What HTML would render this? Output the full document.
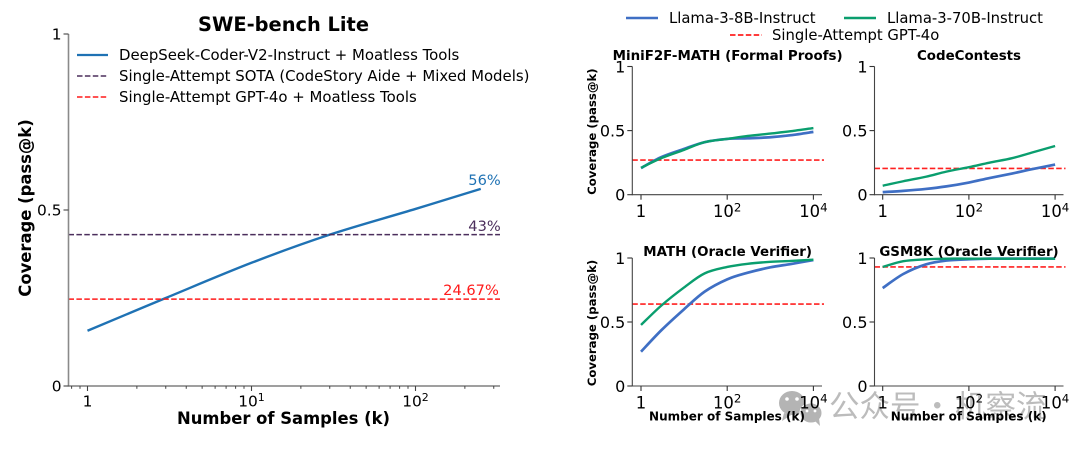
<!DOCTYPE html>
<html lang="en">
<head>
<meta charset="utf-8">
<title>Coverage charts</title>
<style>
html,body{margin:0;padding:0;background:#fff;width:1080px;height:451px;overflow:hidden}
svg{display:block;filter:blur(0.35px)}
text{font-family:"DejaVu Sans","Noto Sans CJK SC",sans-serif;fill:#000}
</style>
</head>
<body>
<svg id="chart" xmlns="http://www.w3.org/2000/svg" width="1080" height="451" viewBox="0 0 1080 451"></svg>
<script>
// ---- Left chart data ----
const sweSamples = [1, 3, 10, 30, 100, 250];
const sweDeepSeek = [0.157, 0.25, 0.35, 0.43, 0.503, 0.56];
const sweSota = 0.43;
const sweGpt = 0.2467;
const sweXTicks = [1, 10, 100];
const sweYTicks = [0, 0.5, 1];
const sweMinorTicks = [0.8, 0.9, 2, 3, 4, 5, 6, 7, 8, 9, 20, 30, 40, 50, 60, 70, 80, 90, 200, 300];

// ---- Right panel data ----
const panelSamples = [1, 3, 10, 30, 100, 300, 1000, 3000, 10000];
const panelXTicks = [1, 100, 10000];
const panelYTicks = [0, 0.5, 1];
const panelTitles = ["MiniF2F-MATH (Formal Proofs)", "CodeContests", "MATH (Oracle Verifier)", "GSM8K (Oracle Verifier)"];
const llama8 = [
  [0.208, 0.294, 0.357, 0.41, 0.435, 0.44, 0.448, 0.464, 0.49],
  [0.02, 0.03, 0.045, 0.065, 0.095, 0.13, 0.165, 0.2, 0.235],
  [0.268, 0.4375, 0.6, 0.737, 0.833, 0.885, 0.927, 0.953, 0.984],
  [0.765, 0.875, 0.95, 0.98, 0.99, 0.995, 0.995, 0.995, 0.995]
];
const llama70 = [
  [0.21, 0.286, 0.35, 0.41, 0.435, 0.458, 0.477, 0.495, 0.52],
  [0.07, 0.105, 0.14, 0.18, 0.215, 0.25, 0.285, 0.33, 0.38],
  [0.477, 0.63, 0.77, 0.88, 0.93, 0.955, 0.97, 0.977, 0.987],
  [0.93, 0.975, 0.99, 0.995, 0.995, 0.995, 0.995, 0.995, 0.995]
];
const gptBaseline = [0.27, 0.205, 0.64, 0.93];

const svg = document.getElementById('chart');
const NS = 'http://www.w3.org/2000/svg';

function add(parent, tag, attrs, txt) {
  const el = document.createElementNS(NS, tag);
  for (const k in attrs) el.setAttribute(k, attrs[k]);
  if (txt !== undefined) el.textContent = txt;
  parent.appendChild(el);
  return el;
}
function group(name) {
  const g = document.createElementNS(NS, 'g');
  
  
  svg.appendChild(g);
  return g;
}
function smoothPath(pts) {
  let d = 'M' + pts[0][0].toFixed(2) + ' ' + pts[0][1].toFixed(2);
  for (let i = 0; i < pts.length - 1; i++) {
    const p0 = pts[Math.max(i - 1, 0)], p1 = pts[i], p2 = pts[i + 1], p3 = pts[Math.min(i + 2, pts.length - 1)];
    const c1x = p1[0] + (p2[0] - p0[0]) / 6, c1y = p1[1] + (p2[1] - p0[1]) / 6;
    const c2x = p2[0] - (p3[0] - p1[0]) / 6, c2y = p2[1] - (p3[1] - p1[1]) / 6;
    d += 'C' + [c1x, c1y, c2x, c2y, p2[0], p2[1]].map(v => v.toFixed(2)).join(' ');
  }
  return d;
}
function tickLabel(g, x, y, value, size, supSize) {
  const e = Math.round(Math.log10(value));
  if (e === 0) {
    add(g, 'text', {x: x, y: y, 'font-size': size, 'text-anchor': 'middle'}, '1');
    return;
  }
  const t = add(g, 'text', {x: x, y: y, 'font-size': size, 'text-anchor': 'middle'}, '10');
  add(t, 'tspan', {dy: -size * 0.36, 'font-size': supSize}, String(e));
}

// ---- Left chart ----
const L = {x0: 68.5, x1: 500, y0: 386, y1: 34, xOne: 87.5, dec: 164};
const lx = v => L.xOne + Math.log10(v) * L.dec;
const ly = v => L.y0 + (L.y1 - L.y0) * v;

const leftG = group('swe-bench-lite-chart');
const gridG = group('swe-baselines');
const lSota = add(gridG, 'line', {x1: L.x0, x2: L.x1, y1: ly(sweSota), y2: ly(sweSota), stroke: '#4b2e5c', 'stroke-width': 1.5, 'stroke-dasharray': '5.5 2.4'});


const lGpt = add(gridG, 'line', {x1: L.x0, x2: L.x1, y1: ly(sweGpt), y2: ly(sweGpt), stroke: '#ff1a1a', 'stroke-width': 1.5, 'stroke-dasharray': '5.5 2.4'});



const lCurve = add(leftG, 'path', {d: smoothPath(sweSamples.map((s, i) => [lx(s), ly(sweDeepSeek[i])])), fill: 'none', stroke: '#1f72b4', 'stroke-width': 2.4});



const lAxes = group('swe-axes');
add(lAxes, 'line', {x1: L.x0, x2: L.x0, y1: L.y1, y2: L.y0 + 0.6, stroke: '#8a8a8a', 'stroke-width': 1.6});
add(lAxes, 'line', {x1: L.x0, x2: L.x1, y1: L.y0, y2: L.y0, stroke: '#666', 'stroke-width': 1.2});
sweYTicks.forEach(v => {
  add(lAxes, 'line', {x1: L.x0 - 5, x2: L.x0, y1: ly(v), y2: ly(v), stroke: '#444', 'stroke-width': 1.1});
  const lab = add(lAxes, 'text', {x: L.x0 - 7, y: ly(v) + 5.6, 'font-size': 15.4, 'text-anchor': 'end'}, String(v));
  
  
});
sweXTicks.forEach(v => {
  add(lAxes, 'line', {x1: lx(v), x2: lx(v), y1: L.y0, y2: L.y0 + 5, stroke: '#444', 'stroke-width': 1.1});
  tickLabel(lAxes, lx(v), L.y0 + 20.5, v, 15.4, 11);
});
sweMinorTicks.forEach(v => {
  add(lAxes, 'line', {x1: lx(v), x2: lx(v), y1: L.y0, y2: L.y0 + 2.8, stroke: '#444', 'stroke-width': 1});
});

const lTitle = add(leftG, 'text', {x: 283.5, y: 31, 'font-size': 19.4, 'font-weight': 700, 'text-anchor': 'middle'}, 'SWE-bench Lite');


const lXT = add(leftG, 'text', {x: 283.5, y: 424, 'font-size': 16.4, 'font-weight': 700, 'text-anchor': 'middle'}, 'Number of Samples (k)');


const lYT = add(leftG, 'text', {x: 0, y: 0, 'font-size': 16.4, 'font-weight': 700, 'text-anchor': 'middle', transform: 'translate(31 208) rotate(-90)'}, 'Coverage (pass@k)');



const v56 = add(leftG, 'text', {x: 484.5, y: 185, 'font-size': 14.6, 'text-anchor': 'middle', style: 'fill:#1f72b4'}, '56%');


const v43 = add(leftG, 'text', {x: 484.5, y: 231, 'font-size': 14.6, 'text-anchor': 'middle', style: 'fill:#4b2e5c'}, '43%');


const v24 = add(leftG, 'text', {x: 471, y: 295, 'font-size': 14.6, 'text-anchor': 'middle', style: 'fill:#ff1a1a'}, '24.67%');



// Left legend
const lLeg = group('swe-legend');
add(lLeg, 'line', {x1: 77, x2: 108, y1: 55, y2: 55, stroke: '#1f72b4', 'stroke-width': 2.2});
add(lLeg, 'line', {x1: 77, x2: 108, y1: 76, y2: 76, stroke: '#4b2e5c', 'stroke-width': 1.5, 'stroke-dasharray': '5.5 2.4'});
add(lLeg, 'line', {x1: 77, x2: 108, y1: 97, y2: 97, stroke: '#ff1a1a', 'stroke-width': 1.5, 'stroke-dasharray': '5.5 2.4'});
add(lLeg, 'text', {x: 119, y: 60, 'font-size': 14.92}, 'DeepSeek-Coder-V2-Instruct + Moatless Tools');
add(lLeg, 'text', {x: 119, y: 81, 'font-size': 14.92}, 'Single-Attempt SOTA (CodeStory Aide + Mixed Models)');
add(lLeg, 'text', {x: 119, y: 102, 'font-size': 14.92}, 'Single-Attempt GPT-4o + Moatless Tools');

// ---- Right panels ----
const panelX = [{spine: 632.3, one: 641, right: 822}, {spine: 874.5, one: 882.7, right: 1063.5}];
const panelY = [{top: 66.5, bottom: 194.7}, {top: 258, bottom: 386}];
const titleBase = [60, 256];
const PDEC = 43.1;
const BLUE = '#3f6fc4';
const GREEN = '#0a9e6e';

panelTitles.forEach((title, i) => {
  const col = i % 2, row = i < 2 ? 0 : 1;
  const X = panelX[col], Y = panelY[row];
  const px = v => X.one + Math.log10(v) * PDEC;
  const py = v => Y.bottom + (Y.top - Y.bottom) * v;
  const g = group('panel-' + (i + 1));

  const base = add(g, 'line', {x1: X.spine, x2: X.right + 2, y1: py(gptBaseline[i]), y2: py(gptBaseline[i]), stroke: '#ff2020', 'stroke-width': 1.7, 'stroke-dasharray': '5.5 2.4'});
  
  

  const b = add(g, 'path', {d: smoothPath(panelSamples.map((s, j) => [px(s), py(llama8[i][j])])), fill: 'none', stroke: BLUE, 'stroke-width': 2.7});
  
  
  const gr = add(g, 'path', {d: smoothPath(panelSamples.map((s, j) => [px(s), py(llama70[i][j])])), fill: 'none', stroke: GREEN, 'stroke-width': 2.4});
  
  

  add(g, 'line', {x1: X.spine, x2: X.spine, y1: Y.top, y2: Y.bottom + 0.5, stroke: '#444', 'stroke-width': 1.1});
  add(g, 'line', {x1: X.spine, x2: X.right, y1: Y.bottom, y2: Y.bottom, stroke: '#444', 'stroke-width': 1.1});
  panelYTicks.forEach(v => {
    add(g, 'line', {x1: X.spine - 5, x2: X.spine, y1: py(v), y2: py(v), stroke: '#333', 'stroke-width': 1.1});
    const t = add(g, 'text', {x: X.spine - 7, y: py(v) + 6, 'font-size': 16, 'text-anchor': 'end'}, String(v));
    
    
  });
  panelXTicks.forEach(v => {
    add(g, 'line', {x1: px(v), x2: px(v), y1: Y.bottom, y2: Y.bottom + 5, stroke: '#333', 'stroke-width': 1.1});
    tickLabel(g, px(v), Y.bottom + 22.5, v, 16.4, 11.8);
  });

  const ttl = add(g, 'text', {x: (X.spine + X.right) / 2 + (col === 1 ? 0 : 0.5), y: titleBase[row], 'font-size': 13.4, 'font-weight': 700, 'text-anchor': 'middle'}, title);
  
  
  if (col === 0) {
    const yl = add(g, 'text', {x: 0, y: 0, 'font-size': 11.7, 'font-weight': 700, 'text-anchor': 'middle', transform: 'translate(596 ' + ((Y.top + Y.bottom) / 2 + 1) + ') rotate(-90)'}, 'Coverage (pass@k)');
    
    
  }
  if (row === 1) {
    const xl = add(g, 'text', {x: X.one + 86, y: 420.5, 'font-size': 12, 'font-weight': 700, 'text-anchor': 'middle'}, 'Number of Samples (k)');
    
    
  }
});

// Right legend
const rLeg = group('right-legend');
add(rLeg, 'line', {x1: 626, x2: 658, y1: 18, y2: 18, stroke: BLUE, 'stroke-width': 2.6});
add(rLeg, 'text', {x: 669, y: 23, 'font-size': 14.8}, 'Llama-3-8B-Instruct');
add(rLeg, 'line', {x1: 844, x2: 876, y1: 18, y2: 18, stroke: GREEN, 'stroke-width': 2.6});
add(rLeg, 'text', {x: 887, y: 23, 'font-size': 14.8}, 'Llama-3-70B-Instruct');
add(rLeg, 'line', {x1: 730, x2: 762, y1: 35, y2: 35, stroke: '#ff2020', 'stroke-width': 1.7, 'stroke-dasharray': '5.5 2.4'});
add(rLeg, 'text', {x: 772, y: 40, 'font-size': 14.8}, 'Single-Attempt GPT-4o');

// Watermark
const wm = group('wechat-watermark');
wm.setAttribute('style', 'mix-blend-mode:multiply');
add(wm, 'ellipse', {cx: 792, cy: 403, rx: 13, ry: 12, fill: '#b4b4b4'});
add(wm, 'path', {d: 'M784 413 L782 421 L791 415 Z', fill: '#b4b4b4'});
add(wm, 'ellipse', {cx: 811, cy: 413, rx: 11, ry: 10, fill: '#b4b4b4', stroke: '#fff', 'stroke-width': 1});
add(wm, 'path', {d: 'M815 421 L820 426 L819 418 Z', fill: '#b4b4b4'});
add(wm, 'circle', {cx: 787, cy: 399, r: 1.8, fill: '#fff'});
add(wm, 'circle', {cx: 797, cy: 399, r: 1.8, fill: '#fff'});
add(wm, 'circle', {cx: 807, cy: 411, r: 1.4, fill: '#fff'});
add(wm, 'circle', {cx: 815, cy: 411, r: 1.4, fill: '#fff'});
const wmT = add(wm, 'text', {x: 829, y: 417, 'font-size': 30.5, style: 'fill:#bcbcbc;font-family:\"Noto Sans CJK SC\",sans-serif'});


add(wmT, 'tspan', {x: 829}, '公众号');
add(wmT, 'tspan', {x: 922}, '·');
add(wmT, 'tspan', {x: 955}, '机察流');
</script>
</body>
</html>
